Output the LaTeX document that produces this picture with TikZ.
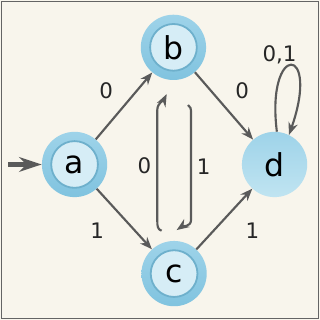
\documentclass[tikz,border=0pt]{standalone}
\usepackage{fontspec}
\setmainfont{DejaVu Sans}
\usetikzlibrary{arrows.meta,calc,positioning}
\definecolor{PaperCream}{RGB}{248,245,236}
\definecolor{FrameGray}{RGB}{100,100,100}
\definecolor{EdgeGray}{RGB}{90,90,90}
\definecolor{BallBlue}{RGB}{128,195,223}
\definecolor{BallTop}{RGB}{158,211,233}
\definecolor{BallLight}{RGB}{214,237,246}
\definecolor{BallRing}{RGB}{110,176,204}
\definecolor{BallLow}{RGB}{192,228,241}

\begin{document}
\begin{tikzpicture}[>={Stealth[length=11pt,width=8.5pt]},
  state/.style={circle,minimum size=2.04cm,inner sep=0pt,font=\fontsize{28}{28}\selectfont},
  accept/.style={state,top color=BallTop,bottom color=BallBlue,
    path picture={\draw[BallRing,line width=1.6pt,fill=BallLight] (path picture bounding box.center) circle (0.73cm);}},
  edge/.style={->,line width=1.9pt,EdgeGray},
  lbl/.style={font=\fontsize{19}{19}\selectfont,text=black!85}]
\fill[PaperCream] (0,0) rectangle (10,10);
\draw[FrameGray,line width=1.5pt] (0.05,0.05) rectangle (9.95,9.95);
\useasboundingbox (0,0) rectangle (10,10);

\node[accept] (a) at (2.33,4.86){a};
\node[accept] (b) at (5.42,8.52){b};
\node[accept] (c) at (5.44,1.45){c};
\node[state,top color=BallTop,middle color=BallBlue!85,bottom color=BallLow] (d) at (8.58,4.86){d};

\coordinate (start) at (0.25,4.86);
\draw[line width=4pt,EdgeGray,-{Stealth[length=20pt,width=13pt]}] (start)--(a);

\draw[edge] (a)--node[lbl,xshift=-0.56cm,yshift=0.48cm]{0}(b);
\draw[edge] (b)--node[lbl,xshift=0.57cm,yshift=0.48cm]{0}(d);
\draw[edge] (a)--node[lbl,xshift=-0.85cm,yshift=-0.35cm]{1}(c);
\draw[edge] (c)--node[lbl,xshift=0.88cm,yshift=-0.37cm]{1}(d);
\draw[edge] (d.86) .. controls +(-0.35,2.8) and +(1.0,2.85) .. node[lbl,xshift=-0.35cm,yshift=0.34cm]{0,1} (d.64);

% c <-> b
\coordinate (cb0) at (5.05,2.79);
\coordinate (cb1) at (5.21,7.06);
\draw[edge] (cb0) .. controls +(-0.12,0.04) and +(0,-0.18) .. ++(-0.135,0.31)
  -- node[lbl,left=1pt]{0} ++(0,3.46) .. controls +(0,0.22) and +(-0.09,-0.18) .. (cb1);
\coordinate (bc0) at (5.875,6.72);
\coordinate (bc1) at (5.52,2.81);
\draw[edge] (bc0) .. controls +(0.08,-0.04) and +(0,0.15) .. ++(0.095,-0.27)
  -- node[lbl,right=1pt]{1} ++(0,-3.325) .. controls +(0,-0.22) and +(0.16,0.11) .. (bc1);
\end{tikzpicture}
\end{document}
